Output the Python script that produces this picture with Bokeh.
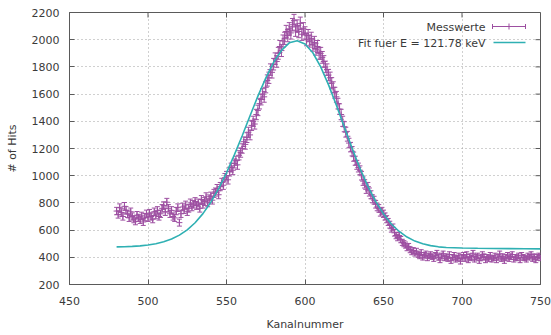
import numpy as np
from bokeh.plotting import figure
from bokeh.models import (ColumnDataSource, Whisker, TeeHead, Label, Arrow,
                          SingleIntervalTicker, Range1d)
from bokeh.embed import file_html
from bokeh.resources import INLINE

# ---------------- data ----------------
kanal = list(range(480, 751))
hits = [
    740, 715, 765, 730, 700, 775, 745, 720, 690, 735,
    700, 680, 665, 710, 690, 675, 705, 660, 695, 720,
    690, 725, 700, 680, 735, 710, 745, 700, 720, 760,
    780, 735, 805, 760, 720, 745, 700, 690, 740, 765,
    655, 720, 770, 750, 785, 735, 760, 800, 770, 790,
    810, 780, 800, 760, 825, 790, 810, 845, 800, 830,
    850, 820, 870, 880, 905, 860, 920, 950, 930, 985,
    1000, 970, 1030, 1060, 1040, 1090, 1110, 1080, 1150, 1170,
    1200, 1250, 1230, 1280, 1320, 1300, 1370, 1400, 1380, 1450,
    1480, 1530, 1560, 1600, 1580, 1650, 1700, 1720, 1780, 1760,
    1820, 1860, 1840, 1900, 1950, 1920, 1990, 2010, 2060, 2030,
    2080, 2050, 2110, 2140, 2070, 2100, 2060, 2120, 2040, 2080,
    2050, 2000, 2030, 1990, 2010, 1960, 1980, 1930, 1950, 1900,
    1900, 1870, 1840, 1800, 1780, 1740, 1720, 1680, 1650, 1610,
    1580, 1530, 1490, 1450, 1400, 1360, 1320, 1290, 1240, 1210,
    1180, 1140, 1110, 1080, 1060, 1040, 1000, 960, 940, 900,
    920, 880, 860, 830, 820, 790, 770, 760, 730, 740,
    720, 700, 680, 660, 640, 610, 620, 580, 560, 545,
    560, 530, 510, 500, 490, 470, 480, 455, 440, 450,
    430, 445, 420, 410, 435, 400, 415, 425, 395, 410,
    420, 405, 390, 415, 430, 400, 380, 410, 425, 395,
    405, 390, 420, 375, 400, 415, 385, 395, 410, 370,
    400, 415, 390, 420, 380, 405, 395, 430, 385, 400,
    410, 375, 395, 420, 405, 380, 400, 390, 415, 385,
    395, 410, 380, 400, 425, 390, 405, 375, 400, 415,
    390, 405, 420, 385, 400, 395, 410, 380, 415, 400,
    395, 385, 410, 400, 420, 390, 405, 380, 400, 410,
    395,
]
fit_kanal = [480, 485, 490, 495, 500, 505, 510, 515, 520, 525, 530, 535, 540, 545,
             550, 555, 560, 565, 570, 575, 580, 585, 590, 595, 600, 605, 610, 615,
             620, 625, 630, 635, 640, 645, 650, 655, 660, 665, 670, 675, 680, 685,
             690, 700, 710, 720, 730, 740, 750]
fit_hits = [477, 478, 480, 484, 490, 500, 514, 534, 563, 602, 654, 721, 805, 905,
            1021, 1153, 1294, 1441, 1585, 1717, 1833, 1921, 1977, 1993, 1969, 1904, 1800, 1668,
            1518, 1359, 1202, 1055, 923, 811, 719, 645, 590, 549, 519, 499, 486, 477,
            472, 468, 466, 465, 464, 463, 462]

x_ticks = [450, 500, 550, 600, 650, 700, 750]
y_ticks = [200, 400, 600, 800, 1000, 1200, 1400, 1600, 1800, 2000, 2200]

# ---------------- styling ----------------
DATA_COL = "#9d4fa1"
FIT_COL = "#2fb0b3"
TEXT_COL = "#3a3a3a"
FRAME_COL = "#5a5a5a"
FONT = "DejaVu Sans"
X0, X1 = 450, 750
Y0, Y1 = 200, 2200
FRAME_W, FRAME_H = 471, 272
TICK_PX = 5

hits_arr = np.array(hits, dtype=float)
err = np.sqrt(hits_arr)
src = ColumnDataSource(dict(x=kanal, y=hits, lo=hits_arr - err, hi=hits_arr + err))

p = figure(width=551, height=335, output_backend="svg", toolbar_location=None,
           x_range=Range1d(X0, X1), y_range=Range1d(Y0, Y1))
p.min_border_left = 69
p.min_border_right = 11
p.min_border_top = 12
p.min_border_bottom = 51
p.background_fill_color = "white"
p.border_fill_color = "white"
p.outline_line_color = FRAME_COL
p.outline_line_width = 1

p.xaxis.ticker = SingleIntervalTicker(interval=50)
p.yaxis.ticker = SingleIntervalTicker(interval=200)
for ax in (p.xaxis[0], p.yaxis[0]):
    ax.major_tick_in = TICK_PX
    ax.major_tick_out = 0
    ax.minor_tick_line_color = None
    ax.axis_line_color = FRAME_COL
    ax.major_tick_line_color = FRAME_COL
    ax.major_label_text_font = FONT
    ax.major_label_text_font_size = "11px"
    ax.major_label_text_color = TEXT_COL
    ax.axis_label_text_font = FONT
    ax.axis_label_text_font_size = "11px"
    ax.axis_label_text_font_style = "normal"
    ax.axis_label_text_color = TEXT_COL
p.xaxis.axis_label = "Kanalnummer"
p.yaxis.axis_label = "# of Hits"
p.xaxis.major_label_standoff = 8
p.yaxis.major_label_standoff = 6
p.xaxis.axis_label_standoff = 10
p.yaxis.axis_label_standoff = 10

p.grid.grid_line_color = "#a0a0a0"
p.grid.grid_line_dash = "1 3"
p.grid.grid_line_width = 1

# mirrored (inward) ticks on top and right border
dx_tick = TICK_PX * (X1 - X0) / FRAME_W
dy_tick = TICK_PX * (Y1 - Y0) / FRAME_H
p.segment(x0=x_ticks, y0=[Y1] * len(x_ticks), x1=x_ticks, y1=[Y1 - dy_tick] * len(x_ticks),
          line_color=FRAME_COL, line_width=1)
p.segment(x0=[X1] * len(y_ticks), y0=y_ticks, x1=[X1 - dx_tick] * len(y_ticks), y1=y_ticks,
          line_color=FRAME_COL, line_width=1)

# data with error bars
wh = Whisker(source=src, base="x", upper="hi", lower="lo",
             line_color=DATA_COL, line_width=1,
             upper_head=TeeHead(size=5, line_color=DATA_COL, line_width=1),
             lower_head=TeeHead(size=5, line_color=DATA_COL, line_width=1))
p.add_layout(wh)
p.scatter("x", "y", source=src, marker="cross", size=6, line_color=DATA_COL, line_width=1)

# fit line
p.line(fit_kanal, fit_hits, line_color=FIT_COL, line_width=1.6)

# legend (gnuplot style: text, then sample on the right)
lab1 = Label(x=416, y=257, x_units="screen", y_units="screen", text="Messwerte",
             text_align="right", text_baseline="middle", text_font=FONT,
             text_font_size="11px", text_color=TEXT_COL)
lab2 = Label(x=416, y=241, x_units="screen", y_units="screen", text="Fit fuer E = 121.78 keV",
             text_align="right", text_baseline="middle", text_font=FONT,
             text_font_size="11px", text_color=TEXT_COL)
p.add_layout(lab1)
p.add_layout(lab2)
s1 = Arrow(x_start=423, y_start=258, x_end=456, y_end=258,
           start_units="screen", end_units="screen",
           start=TeeHead(size=5, line_color=DATA_COL, line_width=1),
           end=TeeHead(size=5, line_color=DATA_COL, line_width=1),
           line_color=DATA_COL, line_width=1)
s1b = Arrow(x_start=439.5, y_start=255, x_end=439.5, y_end=261,
            start_units="screen", end_units="screen", start=None, end=None,
            line_color=DATA_COL, line_width=1)
s2 = Arrow(x_start=424, y_start=242, x_end=456, y_end=242,
           start_units="screen", end_units="screen", start=None, end=None,
           line_color=FIT_COL, line_width=1.6)
p.add_layout(s1)
p.add_layout(s1b)
p.add_layout(s2)

open("out.html", "w").write(file_html(p, INLINE))
